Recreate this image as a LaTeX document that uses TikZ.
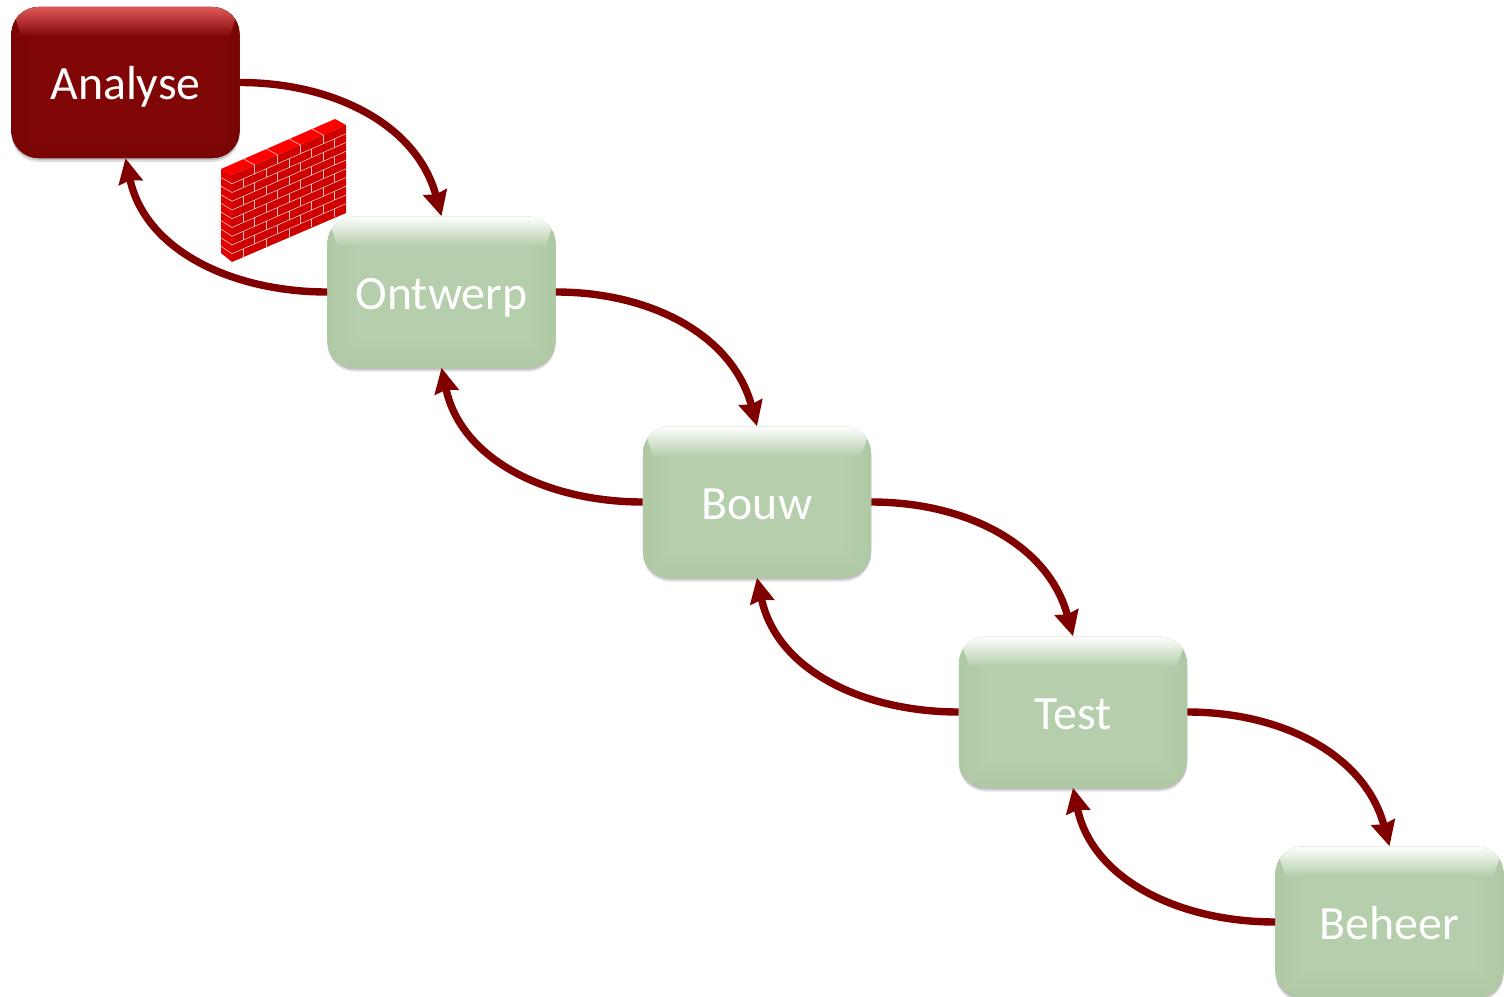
\documentclass[tikz,border=0pt]{standalone}
\usepackage{fontspec}
\setmainfont{Carlito}
\usetikzlibrary{arrows.meta,shadows,calc}
\definecolor{donkerrood}{HTML}{800000}
\definecolor{blokrood}{HTML}{800606}
\definecolor{bovenrood}{HTML}{E25A5A}
\definecolor{zijrood}{HTML}{780505}
\definecolor{blokgroen}{HTML}{B5CEAB}
\definecolor{bovengroen}{HTML}{FFFFFF}
\definecolor{zijgroen}{HTML}{AEC9A4}
\definecolor{muurboven}{HTML}{FF0000}
\definecolor{muurvoor}{HTML}{CE0000}
\definecolor{muurzij}{HTML}{E00000}
\def\bb{path picture bounding box}

\begin{document}
\begin{tikzpicture}[x=0.025cm,y=-0.025cm]
			\tikzset{bevel/.style n args={3}{path picture={
				\begin{scope}[sharp corners]
					\fill[left color=#3,right color=#1] ($(\bb.center)+(-114,-76)$) -- ($(\bb.center)+(-84,-46)$) -- ($(\bb.center)+(-84,46)$) -- ($(\bb.center)+(-114,76)$) -- cycle;
					\fill[left color=#1,right color=#3] ($(\bb.center)+(114,-76)$) -- ($(\bb.center)+(84,-46)$) -- ($(\bb.center)+(84,46)$) -- ($(\bb.center)+(114,76)$) -- cycle;
					\fill[top color=#1,bottom color=#3] ($(\bb.center)+(-114,76)$) -- ($(\bb.center)+(-84,46)$) -- ($(\bb.center)+(84,46)$) -- ($(\bb.center)+(114,76)$) -- cycle;
					\fill[top color=#2,middle color=#2!30!#1,bottom color=#1] ($(\bb.center)+(-114,-76)$) -- ($(\bb.center)+(114,-76)$) -- ($(\bb.center)+(104,-46)$) -- ($(\bb.center)+(-104,-46)$) -- cycle;
				\end{scope}}}}
			\tikzset{bloque/.style={rectangle,rounded corners=0.675cm,minimum width=5.7cm,minimum height=3.775cm,inner sep=0pt,text=white,text height=30pt,text depth=5.8pt,font=\fontsize{34}{36}\selectfont,
				general shadow={shadow xshift=0pt,shadow yshift=-0.1cm,opacity=0.12,fill=black},
				general shadow={shadow xshift=0pt,shadow yshift=-0.05cm,opacity=0.15,fill=black}}}
			\tikzset{groen/.style={bloque,fill=blokgroen,bevel={blokgroen}{bovengroen}{zijgroen}}}
			\tikzset{rood/.style={bloque,fill=blokrood,bevel={blokrood}{bovenrood}{zijrood}}}
			\tikzset{pijl/.style={draw=donkerrood,line width=0.185cm,-{Stealth[length=0.62cm,width=0.6cm,inset=0.06cm]}}}
			\useasboundingbox (0,0) rectangle (1506,997);
			% muur
			\fill[muurboven] (221,169) -- (335,119) -- (346,125) -- (232,175) -- cycle;
			\fill[muurzij] (221,169) -- (232,175) -- (232,262) -- (221,253) -- cycle;
			\fill[muurvoor] (232,175) -- (346,125) -- (346,213) -- (232,262) -- cycle;
			\foreach \r in {1,...,9}{
				\draw[white,line width=0.3pt] ({232},{175+\r*8.75}) -- ({346},{125+\r*8.75});
				\draw[white,line width=0.3pt] ({221},{169+\r*8.6}) -- ({232},{175+\r*8.75});
			}
			\foreach \r in {0,...,9}{
				\foreach \i in {1,...,9}{
					\pgfmathparse{int(mod(\r+\i,2))}
					\ifnum\pgfmathresult=0
						\draw[white!75!red,line width=0.5pt] ({232+\i*11.4},{175-\i*5+\r*8.75}) -- ({232+\i*11.4},{175-\i*5+(\r+1)*8.75});
					\fi
				}
			}
			\foreach \i in {2,4,6,8}{
				\draw[white!70!red,line width=0.5pt] ({232+\i*11.4},{175-\i*5}) -- ({221+\i*11.4},{169-\i*5});
			}
			% blokken
			\node[rood] at (125.5,82.5) (AN){Analyse};
			\node[groen] at (441.5,292) (ON){Ontwerp};
			\node[groen] at (757,502) (BO){Bouw};
			\node[groen] at (1073,712) (TE){Test};
			\node[groen] at (1389.5,922) (BE){Beheer};
			% pijlen
			\draw[pijl] (AN.east) to[out=0,in=105] (ON.north);
			\draw[pijl] (ON.east) to[out=0,in=105] (BO.north);
			\draw[pijl] (BO.east) to[out=0,in=105] (TE.north);
			\draw[pijl] (TE.east) to[out=0,in=105] (BE.north);
			\draw[pijl] (ON.west) to[out=180,in=-78] (AN.south);
			\draw[pijl] (BO.west) to[out=180,in=-78] (ON.south);
			\draw[pijl] (TE.west) to[out=180,in=-78] (BO.south);
			\draw[pijl] (BE.west) to[out=180,in=-78] (TE.south);
\end{tikzpicture}
\end{document}
